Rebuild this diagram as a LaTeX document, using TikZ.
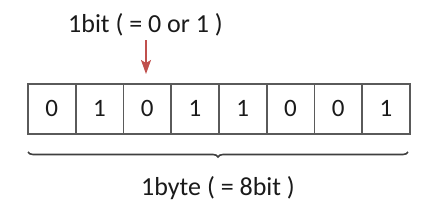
\documentclass[tikz,border=0pt]{standalone}
\usepackage{fontspec}
\setmainfont{Carlito}
\usetikzlibrary{decorations.pathreplacing,arrows.meta}
\definecolor{boxline}{HTML}{5A5A5A}
\definecolor{arrowred}{HTML}{C0504D}
\definecolor{txt}{HTML}{1A1A1A}
\begin{document}
\begin{tikzpicture}[x=1pt,y=-1pt,
  bitbox/.style={draw=boxline,line width=1.8pt,minimum width=47.75pt,minimum height=50pt,inner sep=0pt,anchor=north west,font=\fontsize{25}{27}\selectfont,text=txt},
  lbl/.style={font=\fontsize{26}{28}\selectfont,text=txt,inner sep=0pt,anchor=base}]
\useasboundingbox (0,0) rectangle (436,214);
\foreach \v [count=\i] in {0,1,0,1,1,0,0,1}{
  \node[bitbox] (b\i) at ({27+(\i-1)*47.75},83) {\v};
}
\node[lbl] (top) at (145.5,32) {1bit ( = 0 or 1 )};
\coordinate (astart) at (146,40);
\coordinate (aend) at (146,74);
\draw[arrowred,line width=1.4pt,-{Stealth[length=14pt,width=10pt,inset=3pt]}] (astart) -- (aend);
\coordinate (bl) at (28,152);
\coordinate (br) at (408,152);
\draw[color=boxline!70!black,line width=1.6pt,decorate,decoration={brace,mirror,amplitude=5pt}] (bl) -- (br);
\node[lbl] (bot) at (218,195) {1byte ( = 8bit )};
\end{tikzpicture}
\end{document}
